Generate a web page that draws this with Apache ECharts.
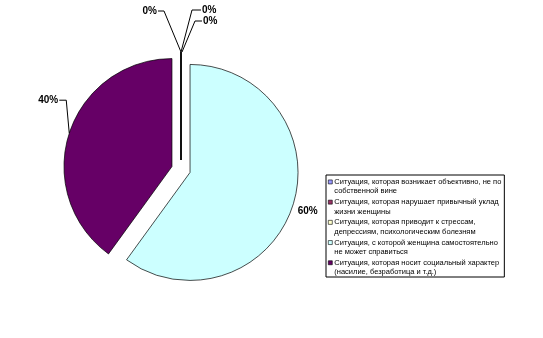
<!DOCTYPE html>
<html>
<head>
<meta charset="utf-8">
<script src="https://cdn.jsdelivr.net/npm/echarts@6/dist/echarts.min.js"></script>
<style>
html,body{margin:0;padding:0;background:#fff;}
#c{width:543px;height:338px;}
</style>
</head>
<body>
<div id="c"></div>
<script>
const categories = [
  'Ситуация, которая возникает объективно, не по\nсобственной вине',
  'Ситуация, которая нарушает привычный уклад\nжизни женщины',
  'Ситуация, которая приводит к стрессам,\nдепрессиям, психологическим болезням',
  'Ситуация, с которой женщина самостоятельно\nне может справиться',
  'Ситуация, которая носит социальный характер\n(насилие, безработица и т.д.)'
];
const values = [0, 0, 0, 60, 40];
const colors = ['#9999FF', '#993366', '#FFFFCC', '#CCFFFF', '#660066'];

const CENTER = [181, 169.5];
const RADIUS = 108;
const EXPLODE = 9.5;

const chart = echarts.init(document.getElementById('c'), null, {renderer: 'canvas'});
const labelFont = {fontFamily: 'Liberation Sans, Arial, sans-serif', fontSize: 10, fontWeight: 'bold', color: '#000'};

// label placement relative to the exploded slice's outer anchor point
function labelPlace(p) {
  const pts = p.labelLinePoints;
  if (!pts) return {};
  const a0 = pts[0];
  const vx = a0[0] - CENTER[0], vy = a0[1] - CENTER[1];
  const len = Math.sqrt(vx * vx + vy * vy) || 1;
  const a = [a0[0] + vx / len * EXPLODE, a0[1] + vy / len * EXPLODE];
  const i = p.dataIndex;
  if (i === 0) {
    return {x: a[0] - 24, y: a[1] - 41, align: 'right', verticalAlign: 'middle',
      labelLinePoints: [a, [a[0] - 17, a[1] - 41], [a[0] - 23, a[1] - 41]]};
  }
  if (i === 1) {
    return {x: a[0] + 21, y: a[1] - 42, align: 'left', verticalAlign: 'middle',
      labelLinePoints: [a, [a[0] + 11, a[1] - 42], [a[0] + 20, a[1] - 42]]};
  }
  if (i === 2) {
    return {x: a[0] + 22, y: a[1] - 31, align: 'left', verticalAlign: 'middle',
      labelLinePoints: [[a[0] + 1, a[1]], [a[0] + 14, a[1] - 31], [a[0] + 21, a[1] - 31]]};
  }
  if (i === 3) {
    return {x: a[0] + 5, y: a[1] + 5, align: 'left', verticalAlign: 'middle',
      labelLinePoints: [a, a, a]};
  }
  return {x: a[0] - 11, y: a[1] - 33, align: 'right', verticalAlign: 'middle',
    labelLinePoints: [a, [a[0] - 3, a[1] - 33], [a[0] - 10, a[1] - 33]]};
}

chart.setOption({
  animation: false,
  backgroundColor: '#fff',
  color: colors,
  legend: {
    orient: 'vertical',
    left: 326,
    top: 175,
    padding: [2, 3, 0, 2],
    itemGap: 1,
    itemWidth: 4,
    itemHeight: 18.6,
    icon: 'path://M0,2.65h4v4h-4zM0,0M0,18.6',
    borderColor: '#000',
    borderWidth: 1,
    backgroundColor: '#fff',
    selectedMode: false,
    itemStyle: {borderColor: '#000', borderWidth: 0.6},
    textStyle: {fontFamily: 'Liberation Sans, Arial, sans-serif', fontSize: 7.5, lineHeight: 9.3, color: '#000', width: 166, padding: [0, 0, 0, -3]},
    data: categories
  },
  series: [{
    type: 'pie',
    center: CENTER,
    radius: RADIUS,
    startAngle: 90,
    clockwise: true,
    selectedMode: 'multiple',
    selectedOffset: EXPLODE,
    itemStyle: {borderColor: '#000', borderWidth: 0.7},
    label: {show: false},
    labelLine: {show: false},
    emphasis: {disabled: true},
    data: categories.map((n, i) => ({name: n, value: values[i], selected: true}))
  }, {
    // label-only layer (same data, transparent slices)
    type: 'pie',
    center: CENTER,
    radius: RADIUS,
    startAngle: 90,
    clockwise: true,
    silent: true,
    selectedMode: false,
    avoidLabelOverlap: false,
    z: 3,
    itemStyle: {color: 'rgba(0,0,0,0)', borderWidth: 0},
    label: Object.assign({show: true, formatter: '{d}%'}, labelFont),
    labelLine: {show: true, lineStyle: {color: '#000', width: 1}},
    labelLayout: labelPlace,
    emphasis: {disabled: true},
    data: categories.map((n, i) => ({name: n, value: values[i]}))
  }]
});
</script>
</body>
</html>
